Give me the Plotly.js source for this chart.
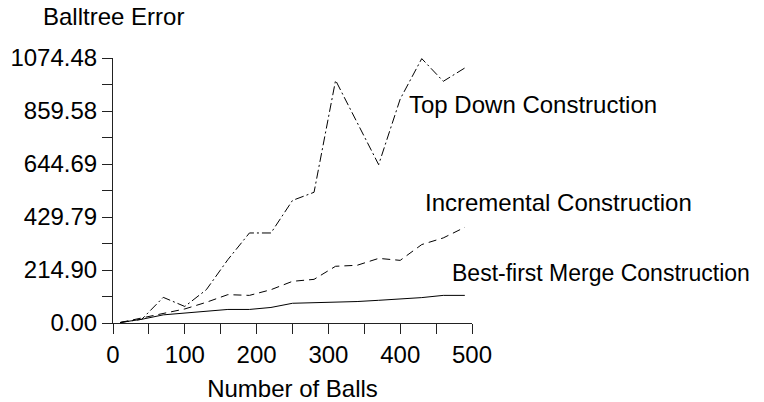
<!DOCTYPE html>
<html><head><meta charset="utf-8">
<script src="https://cdn.plot.ly/plotly-3.0.1.min.js"></script>
<style>html,body{margin:0;padding:0;background:#fff;}#chart{width:764px;height:402px;}</style>
</head><body><div id="chart"></div>
<script>
const balls = [10, 40, 70, 100, 130, 160, 190, 220, 250, 280, 310, 340, 370, 400, 430, 460, 490];
const topDown = [2, 15, 104, 67, 135, 257, 365, 365, 497, 530, 984, 813, 642, 908, 1072, 980, 1034];
const incremental = [2, 20, 40, 57, 84, 115, 112, 135, 169, 177, 230, 234, 262, 254, 318, 345, 388];
const bestFirst = [2, 15, 33, 40, 45, 55, 55, 63, 80, 82, 86, 87, 92, 97, 103, 112, 112];
const seriesNames = ['Top Down Construction', 'Incremental Construction', 'Best-first Merge Construction'];
const xTickVals = [0, 50, 100, 150, 200, 250, 300, 350, 400, 450, 500];
const xTickText = ['0', '', '100', '', '200', '', '300', '', '400', '', '500'];
const yTickVals = [0, 107.448, 214.896, 322.344, 429.792, 537.24, 644.688, 752.136, 859.584, 967.032, 1074.48];
const yTickText = ['0.00', '', '214.90', '', '429.79', '', '644.69', '', '859.58', '', '1074.48'];
const xTitle = 'Number of Balls';
const yTitle = 'Balltree Error';

const FONT = 'Liberation Sans, Arial, Helvetica, sans-serif';
const lineStyle = [
  {color: '#000', width: 1, dash: '9px,3px,2px,3px'},
  {color: '#000', width: 1, dash: '8px,5px'},
  {color: '#000', width: 1, dash: 'solid'}
];
const seriesY = [topDown, incremental, bestFirst];
const traces = seriesY.map((ys, i) => ({
  x: balls, y: ys, name: seriesNames[i], type: 'scatter', mode: 'lines',
  line: lineStyle[i], cliponaxis: false, hoverinfo: 'skip'
}));

const labelPos = [
  {x: 409.5, y: 885, size: 24},
  {x: 431.4, y: 488, size: 24},
  {x: 469.4, y: 204, size: 23}
];
const annotations = seriesNames.map((n, i) => ({
  text: n, x: labelPos[i].x, y: labelPos[i].y, xref: 'x', yref: 'y',
  xanchor: 'left', yanchor: 'middle', showarrow: false,
  font: {family: FONT, size: labelPos[i].size, color: '#000'}
}));
annotations.push({
  text: yTitle, xref: 'paper', yref: 'paper', x: 0, y: 1.156,
  xanchor: 'center', yanchor: 'middle', showarrow: false,
  font: {family: FONT, size: 24, color: '#000'}
});

const axisCommon = {
  showline: true, linecolor: '#222', linewidth: 1,
  ticks: 'outside', ticklen: 10, tickwidth: 1, tickcolor: '#222',
  showgrid: false, zeroline: false, tickmode: 'array',
  tickfont: {family: FONT, size: 24, color: '#000'}
};

const layout = {
  width: 764, height: 402,
  margin: {l: 112.7, r: 292, t: 58.3, b: 78.7},
  paper_bgcolor: '#fff', plot_bgcolor: '#fff',
  showlegend: false,
  font: {family: FONT, size: 24, color: '#000'},
  xaxis: Object.assign({}, axisCommon, {
    range: [0, 500], tickvals: xTickVals, ticktext: xTickText,
    title: {text: xTitle, font: {family: FONT, size: 24, color: '#000'}, standoff: 13}
  }),
  yaxis: Object.assign({}, axisCommon, {
    range: [0, 1074.48], tickvals: yTickVals, ticktext: yTickText
  }),
  annotations: annotations
};

Plotly.newPlot('chart', traces, layout, {displayModeBar: false, staticPlot: true});
</script>
</body></html>
